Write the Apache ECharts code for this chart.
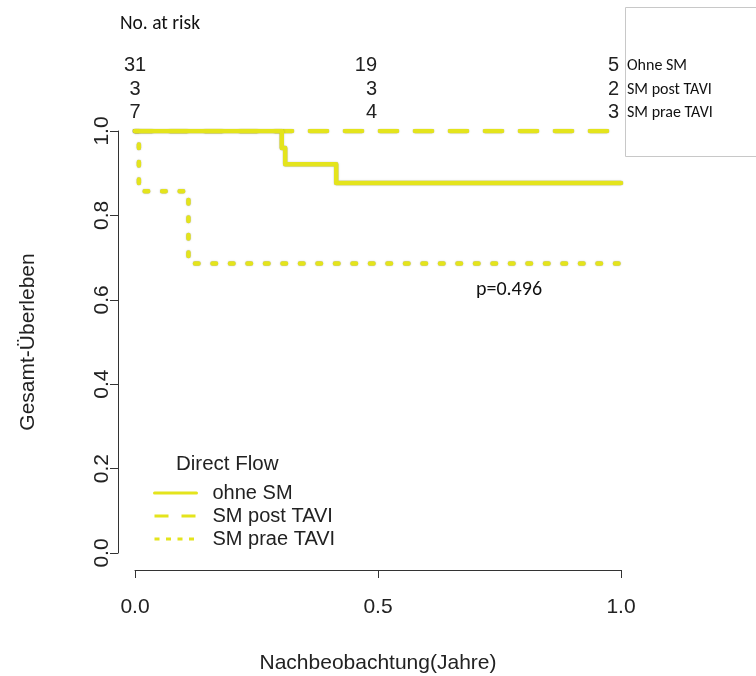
<!DOCTYPE html>
<html>
<head>
<meta charset="utf-8">
<script src="https://cdn.jsdelivr.net/npm/echarts@6/dist/echarts.min.js"></script>
<style>
html, body { margin: 0; padding: 0; background: #ffffff; }
#chart { width: 756px; height: 676px; }
</style>
</head>
<body>
<div id="chart"></div>
<script>
// Kaplan-Meier survival, follow-up in years
const timeTicks = [0, 0.5, 1.0];
const survTicks = [0, 0.2, 0.4, 0.6, 0.8, 1.0];
const groupNames = ['ohne SM', 'SM post TAVI', 'SM prae TAVI'];

const ohneTimes = [0, 0.302, 0.309, 0.414, 1.0];
const ohneSurv  = [1, 0.960, 0.921, 0.877, 0.877];
const postTimes = [0, 1.0];
const postSurv  = [1, 1];
const praeTimes = [0, 0.008, 0.110, 1.0];
const praeSurv  = [1, 0.857, 0.686, 0.686];

// numbers at risk at each time tick
const riskTimes = [0, 0.5, 1.0];
const riskOhne = [31, 19, 5];
const riskPost = [3, 3, 2];
const riskPrae = [7, 4, 3];
const riskRowLabels = ['Ohne SM', 'SM post TAVI', 'SM prae TAVI'];

const legendTitle = 'Direct Flow';
const pValueText = 'p=0.496';

const YELLOW = '#e4e41c';
const AXIS_FONT = '"Liberation Sans", Arial, Helvetica, sans-serif';
const NARROW_FONT = 'Carlito, Lato, "Liberation Sans Narrow", sans-serif';

function pairs(xs, ys) { return xs.map((x, i) => [x, ys[i]]); }

const chart = echarts.init(document.getElementById('chart'), null, { renderer: 'canvas' });

const lineShadow = { shadowColor: 'rgba(90,90,90,0.55)', shadowBlur: 1.2 };
const hiddenSymbol = { opacity: 0, color: YELLOW };

const option = {
  animation: false,
  backgroundColor: '#ffffff',
  color: [YELLOW, YELLOW, YELLOW],
  grid: { left: 135, width: 486, top: 131, height: 422, containLabel: false, outerBoundsMode: 'none' },
  title: {
    text: legendTitle, left: 176, top: 454, padding: 0,
    textStyle: { fontFamily: AXIS_FONT, fontSize: 20.5, fontWeight: 'normal', color: '#222' }
  },
  legend: {
    orient: 'vertical', left: 153, top: 483, padding: 0,
    itemWidth: 42, itemHeight: 14, itemGap: 3,
    selectedMode: false,
    textStyle: { fontFamily: AXIS_FONT, fontSize: 20, color: '#222', lineHeight: 20, padding: [0, 0, 0, 11] },
    data: [
      { name: groupNames[0], itemStyle: hiddenSymbol, lineStyle: { width: 3, type: 'solid', color: YELLOW } },
      { name: groupNames[1], itemStyle: hiddenSymbol, lineStyle: { width: 3, type: [14, 13], cap: 'butt', color: YELLOW } },
      { name: groupNames[2], itemStyle: hiddenSymbol, lineStyle: { width: 3, type: [5, 6.5], cap: 'butt', color: YELLOW } }
    ]
  },
  xAxis: {
    type: 'value', min: 0, max: 1, interval: 0.5, offset: 17,
    name: 'Nachbeobachtung(Jahre)', nameLocation: 'middle', nameGap: 83,
    nameTextStyle: { fontFamily: AXIS_FONT, fontSize: 21, color: '#222' },
    axisLine: { show: true, onZero: false, lineStyle: { color: '#333', width: 1 } },
    axisTick: { show: true, length: 8, lineStyle: { color: '#333' } },
    axisLabel: { fontFamily: AXIS_FONT, fontSize: 21, color: '#222', margin: 27,
                 formatter: v => v.toFixed(1) },
    splitLine: { show: false }
  },
  yAxis: {
    type: 'value', min: 0, max: 1, interval: 0.2, offset: 17,
    name: 'Gesamt-Überleben', nameLocation: 'middle', nameGap: 79,
    nameTextStyle: { fontFamily: AXIS_FONT, fontSize: 21, color: '#222' },
    axisLine: { show: true, onZero: false, lineStyle: { color: '#333', width: 1 } },
    axisTick: { show: true, length: 8, lineStyle: { color: '#333' } },
    axisLabel: { fontFamily: AXIS_FONT, fontSize: 21, color: '#222', margin: 5, rotate: 90,
                 formatter: v => v.toFixed(1) },
    splitLine: { show: false }
  },
  series: [
    {
      name: groupNames[2], type: 'line', step: 'end', showSymbol: false, symbol: 'none',
      data: pairs(praeTimes, praeSurv), z: 2, itemStyle: { color: YELLOW },
      lineStyle: Object.assign({ color: YELLOW, width: 4.5, type: [3.5, 14], cap: 'round' }, lineShadow)
    },
    {
      name: groupNames[1], type: 'line', step: 'end', showSymbol: false, symbol: 'none',
      data: pairs(postTimes, postSurv), z: 3, itemStyle: { color: YELLOW },
      lineStyle: Object.assign({ color: YELLOW, width: 4.5, type: [17, 18], cap: 'round' }, lineShadow)
    },
    {
      name: groupNames[0], type: 'line', step: 'end', showSymbol: false, symbol: 'none',
      data: pairs(ohneTimes, ohneSurv), z: 4, itemStyle: { color: YELLOW },
      lineStyle: Object.assign({ color: YELLOW, width: 4.5, type: 'solid', cap: 'round', join: 'round' }, lineShadow)
    }
  ]
};

chart.setOption(option);

// numbers-at-risk table, legend box and p-value text
const riskRows = [riskOhne, riskPost, riskPrae];
const rowY = [65, 89, 112];
const colAlign = ['center', 'right', 'right'];
const colShift = [0, -1, -2];
const graphics = [
  { type: 'rect', z: 0, shape: { x: 625.5, y: 7.5, width: 140, height: 149 },
    style: { fill: '#ffffff', stroke: '#c8c8c8', lineWidth: 1 } },
  { type: 'text', z: 10, x: 120, y: 24,
    style: { text: 'No. at risk', font: '19.5px ' + NARROW_FONT, fill: '#111', align: 'left', verticalAlign: 'middle' } },
  { type: 'text', z: 10, x: 509, y: 290,
    style: { text: pValueText, font: '20px ' + NARROW_FONT, fill: '#111', align: 'center', verticalAlign: 'middle' } }
];
riskRows.forEach((row, r) => {
  row.forEach((n, c) => {
    const px = chart.convertToPixel({ xAxisIndex: 0 }, riskTimes[c]) + colShift[c];
    graphics.push({ type: 'text', z: 10, x: px, y: rowY[r],
      style: { text: String(n), font: '20px ' + AXIS_FONT, fill: '#222', align: colAlign[c], verticalAlign: 'middle' } });
  });
  graphics.push({ type: 'text', z: 10, x: 627, y: rowY[r] + 1,
    style: { text: riskRowLabels[r], font: '16px ' + NARROW_FONT, fill: '#111', align: 'left', verticalAlign: 'middle' } });
});
chart.setOption({ graphic: graphics });
</script>
</body>
</html>
